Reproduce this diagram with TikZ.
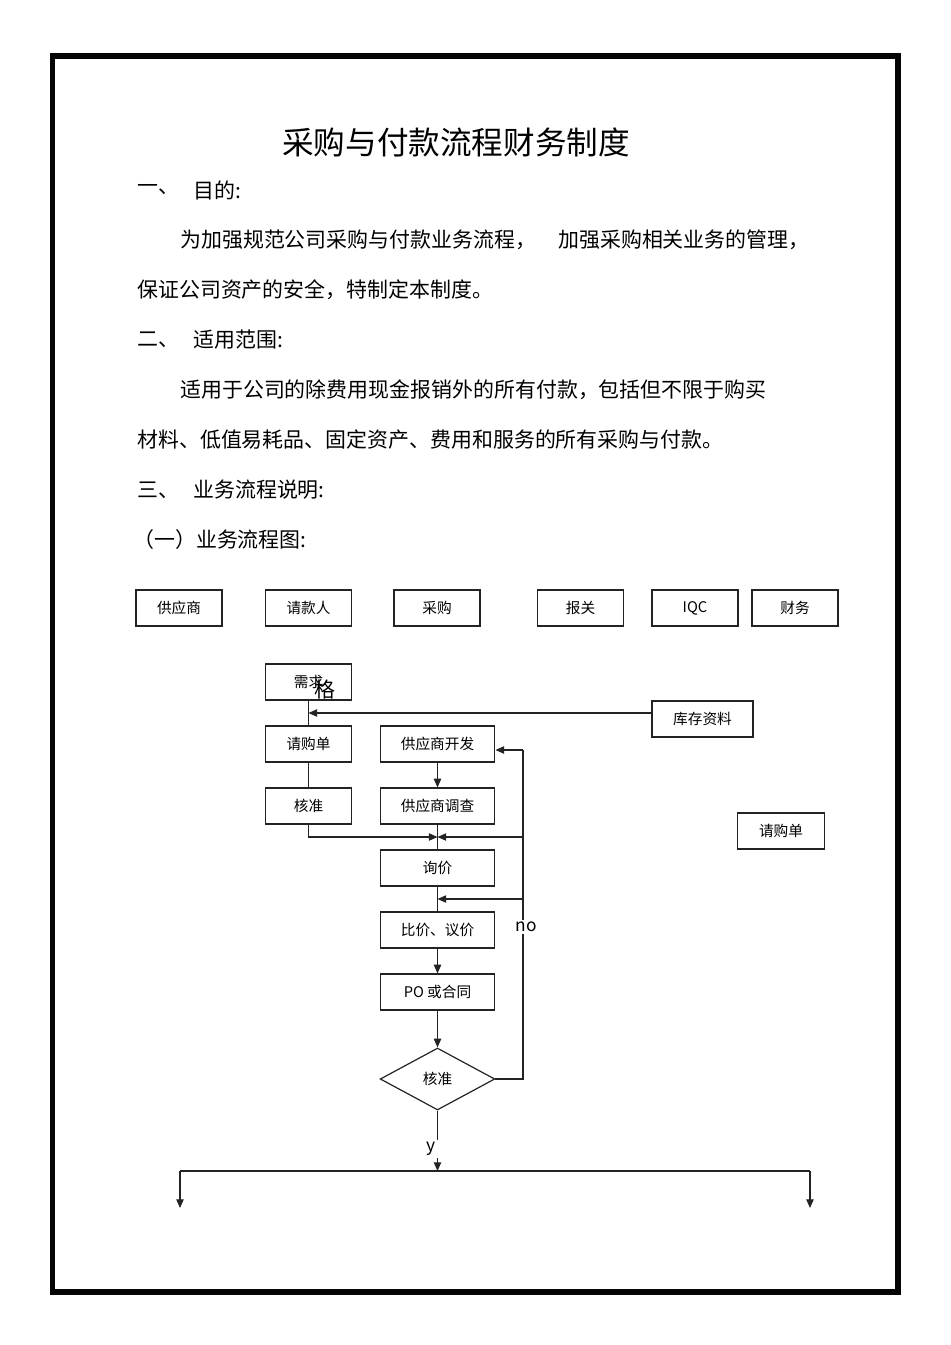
\documentclass[tikz,border=0pt]{standalone}
\usepackage{fontspec}
\setmainfont{Noto Sans CJK SC}
\usepackage{xcolor}
\usepackage{tikz}
\usetikzlibrary{shapes.geometric, arrows.meta, positioning, calc}
\definecolor{linegray}{RGB}{35, 35, 35}
\definecolor{framedark}{RGB}{5, 5, 5}
\tikzset{
    lane/.style={rectangle, minimum width=64.5pt, minimum height=27pt,
                 inner sep=0pt, draw=linegray, line width=1pt,
                 font=\fontsize{11}{13}\selectfont},
    proc/.style={rectangle, minimum width=65pt, minimum height=27pt,
                 inner sep=0pt, draw=linegray, line width=0.9pt,
                 font=\fontsize{11}{13}\selectfont},
    wideproc/.style={proc, minimum width=86pt},
    deci/.style={diamond, minimum width=86pt, minimum height=46.5pt,
                 inner sep=0pt, draw=linegray, line width=0.9pt,
                 font=\fontsize{11}{13}\selectfont},
    arr/.style={-{Triangle[length=6.5pt, width=5.5pt]}, line width=0.9pt, color=linegray},
    link/.style={line width=0.9pt, color=linegray},
    body/.style={anchor=west, inner sep=0pt, font=\fontsize{15.7}{18}\selectfont},
    branchlbl/.style={fill=white, inner sep=1.8pt, font=\fontsize{13}{15}\selectfont},
}

\begin{document}
\begin{tikzpicture}[x=0.75pt, y=-0.75pt]
    \useasboundingbox (0,0) rectangle (950,1345);

    % Page frame
    \draw[framedark, line width=3.8pt] (52.5,56) rectangle (898,1292);

    % Title and text
    \node[font=\fontsize{23.7}{28}\selectfont] (title) at (456,142) {采购与付款流程财务制度};
    \node[body] (s1) at (137,190) {一、};
    \node[body] (s1t) at (193,190) {目的:};
    \node[body] (p1a) at (180,240) {为加强规范公司采购与付款业务流程，};
    \node[body] (p1b) at (558,240) {加强采购相关业务的管理，};
    \node[body] (p1c) at (137,290) {保证公司资产的安全，特制定本制度。};
    \node[body] (s2) at (137,340) {二、};
    \node[body] (s2t) at (193,340) {适用范围:};
    \node[body] (p2a) at (180,390) {适用于公司的除费用现金报销外的所有付款，包括但不限于购买};
    \node[body] (p2b) at (137,440) {材料、低值易耗品、固定资产、费用和服务的所有采购与付款。};
    \node[body] (s3) at (137,490) {三、};
    \node[body] (s3t) at (193,490) {业务流程说明:};
    \node[body] (s31) at (133,540) {（一）业务流程图:};

    % Departments
    \node[lane] (supplier) at (179,608) {供应商};
    \node[lane] (payee) at (308.5,608) {请款人};
    \node[lane] (purch) at (437,608) {采购};
    \node[lane] (customs) at (580.5,608) {报关};
    \node[lane] (iqc) at (695,608) {IQC};
    \node[lane] (finance) at (795,608) {财务};

    % Process boxes
    \node[proc] (demand) at (308.5,682) {需求};
    \node[font=\fontsize{15.7}{18}\selectfont, inner sep=0pt] (ge) at (325,690) {格};
    \node[proc, minimum width=75.75pt] (stock) at (702.5,719) {库存资料};
    \node[proc] (req) at (308.5,744) {请购单};
    \node[wideproc] (devel) at (437.5,744) {供应商开发};
    \node[proc] (appr) at (308.5,806) {核准};
    \node[wideproc] (survey) at (437.5,806) {供应商调查};
    \node[proc] (req2) at (781,831) {请购单};
    \node[wideproc] (inquiry) at (437.5,868) {询价};
    \node[wideproc] (compare) at (437.5,930) {比价、议价};
    \node[wideproc] (po) at (437.5,992) {PO 或合同};
    \node[deci] (check) at (437.5,1079) {核准};

    % Join points
    \coordinate (stockin) at (308.5,713);
    \coordinate (mergeA) at (437.5,837);
    \coordinate (mergeB) at (437.5,899);
    \coordinate (loopbot) at (523,1079);
    \coordinate (looptop) at (523,750);
    \coordinate (split) at (437.5,1171);
    \coordinate (splitL) at (180,1171);
    \coordinate (splitR) at (810,1171);
    \coordinate (endL) at (180,1208);
    \coordinate (endR) at (810,1208);

    % Connectors
    \draw[link] (demand.south) -- (req.north);
    \draw[arr] (stock.west |- stockin) -- (stockin);
    \draw[link] (req.south) -- (appr.north);
    \draw[arr] (devel.south) -- (survey.north);
    \draw[arr] (appr.south) |- (mergeA);
    \draw[link] (survey.south) -- (inquiry.north);
    \draw[link] (inquiry.south) -- (compare.north);
    \draw[link] (check.east) -- (loopbot) -- (looptop);
    \draw[arr] (looptop) -- (devel.east |- looptop);
    \draw[arr] (loopbot |- mergeA) -- (mergeA);
    \draw[arr] (loopbot |- mergeB) -- (mergeB);
    \draw[arr] (compare.south) -- (po.north);
    \draw[arr] (po.south) -- (check.north);
    \node[branchlbl] (nolbl) at (526,927) {no};
    \draw[arr] (check.south) -- (split);
    \node[branchlbl] (ylbl) at (431,1149) {y};
    \draw[link] (splitL) -- (splitR);
    \draw[arr] (splitL) -- (endL);
    \draw[arr] (splitR) -- (endR);
\end{tikzpicture}
\end{document}
